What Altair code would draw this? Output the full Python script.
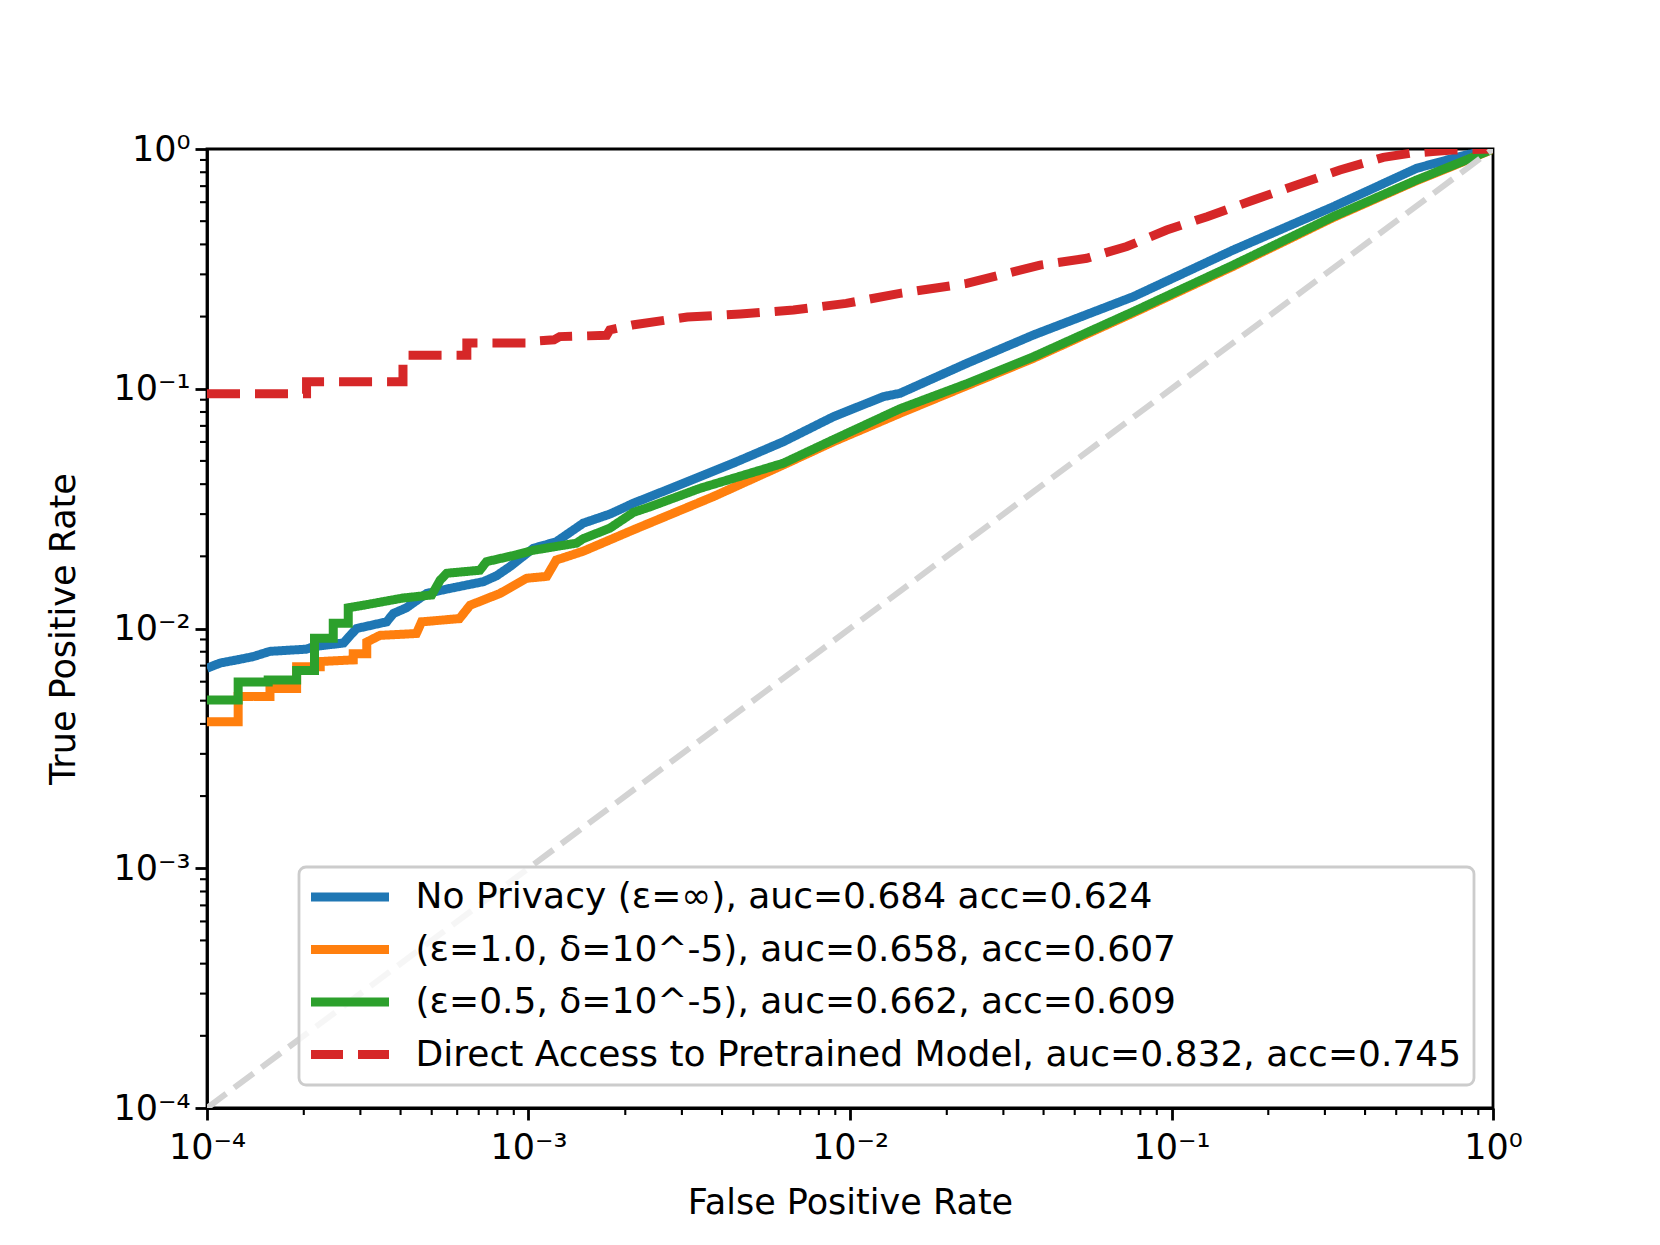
import altair as alt
import pandas as pd

# ---------------- data ----------------
series_names = [
    "No Privacy (ε=∞), auc=0.684 acc=0.624",
    "(ε=1.0, δ=10^-5), auc=0.658, acc=0.607",
    "(ε=0.5, δ=10^-5), auc=0.662, acc=0.609",
    "Direct Access to Pretrained Model, auc=0.832, acc=0.745",
]
series_colors = ["#1f77b4", "#ff7f0e", "#2ca02c", "#d62728"]
series_dashes = [[1, 0], [1, 0], [1, 0], [33, 15]]

blue_fpr = [1e-4, 1.1e-4, 1.24e-4, 1.39e-4, 1.57e-4, 2.04e-4, 2.14e-4, 2.66e-4, 2.79e-4,
            2.92e-4, 3.62e-4, 3.80e-4, 4.17e-4, 4.82e-4, 5.70e-4, 7.24e-4, 7.96e-4,
            8.75e-4, 1.035e-3, 1.22e-3, 1.48e-3, 1.79e-3, 2.12e-3, 2.69e-3, 4.33e-3,
            6.2e-3, 8.87e-3, 0.0127, 0.0143, 0.0231, 0.0372, 0.076, 0.1556, 0.318,
            0.579, 0.80, 1.0]
blue_tpr = [0.00683, 0.00718, 0.0074, 0.00763, 0.00803, 0.0082, 0.0084, 0.0087, 0.00936,
            0.0100, 0.01066, 0.01155, 0.0122, 0.0140, 0.0147, 0.01568, 0.0166,
            0.0181, 0.0216, 0.0230, 0.0275, 0.0300, 0.0333, 0.0378, 0.0489,
            0.0601, 0.0764, 0.0927, 0.0957, 0.1277, 0.1676, 0.242, 0.379, 0.574,
            0.831, 0.935, 1.0]

orange_fpr = [1e-4, 1.25e-4, 1.25e-4, 1.57e-4, 1.57e-4, 1.9e-4, 1.9e-4, 2.25e-4, 2.25e-4,
              2.85e-4, 2.85e-4, 3.14e-4, 3.14e-4, 3.45e-4, 4.48e-4, 4.65e-4, 6.1e-4,
              6.58e-4, 8.15e-4, 9.87e-4, 1.14e-3, 1.22e-3, 1.48e-3, 2.12e-3, 3.76e-3,
              6.2e-3, 8.87e-3, 0.0143, 0.0231, 0.0372, 0.076, 0.1556, 0.318, 0.579,
              0.80, 1.0]
orange_tpr = [0.00408, 0.00408, 0.0052, 0.0052, 0.00562, 0.00562, 0.00693, 0.00693, 0.00728,
              0.0074, 0.00784, 0.00784, 0.00878, 0.00936, 0.00953, 0.01066, 0.0110,
              0.0125, 0.0140, 0.0162, 0.0165, 0.0193, 0.0210, 0.0258, 0.0355,
              0.0481, 0.0601, 0.079, 0.103, 0.134, 0.207, 0.324, 0.517, 0.738,
              0.88, 1.0]

green_fpr = [1e-4, 1.25e-4, 1.25e-4, 1.55e-4, 1.55e-4, 1.9e-4, 1.9e-4, 2.16e-4, 2.16e-4,
             2.47e-4, 2.47e-4, 2.75e-4, 2.75e-4, 3.06e-4, 4.07e-4, 5.0e-4, 5.31e-4,
             5.57e-4, 7.06e-4, 7.4e-4, 9.18e-4, 1.035e-3, 1.41e-3, 1.48e-3, 1.79e-3,
             2.12e-3, 2.39e-3, 3.41e-3, 6.2e-3, 8.87e-3, 0.0143, 0.0231, 0.0372,
             0.076, 0.1556, 0.318, 0.579, 0.80, 1.0]
green_tpr = [0.00503, 0.00503, 0.00598, 0.00598, 0.0061, 0.0061, 0.00668, 0.00668, 0.0091,
             0.0091, 0.01051, 0.01051, 0.0122, 0.0125, 0.0134, 0.0138, 0.0159,
             0.0170, 0.0175, 0.0190, 0.0203, 0.0212, 0.0227, 0.0237, 0.0262,
             0.0305, 0.0322, 0.0384, 0.0489, 0.0613, 0.0825, 0.105, 0.136,
             0.2096, 0.328, 0.522, 0.743, 0.885, 1.0]

red_fpr = [1e-4, 2.04e-4, 2.04e-4, 4.07e-4, 4.07e-4, 6.43e-4, 6.43e-4, 1.0e-3, 1.03e-3,
           1.2e-3, 1.25e-3, 1.75e-3, 1.79e-3, 2.13e-3, 3.12e-3, 4.56e-3, 6.67e-3,
           9.73e-3, 0.0143, 0.0231, 0.039, 0.0545, 0.0726, 0.0966, 0.129, 0.180,
           0.245, 0.334, 0.456, 0.552, 0.65, 0.75, 1.0]
red_tpr = [0.0954, 0.0954, 0.107, 0.107, 0.138, 0.138, 0.155, 0.155, 0.158,
           0.160, 0.165, 0.167, 0.176, 0.185, 0.199, 0.205, 0.213,
           0.227, 0.250, 0.275, 0.328, 0.350, 0.392, 0.459, 0.522, 0.613,
           0.708, 0.817, 0.923, 0.959, 0.975, 0.99, 1.0]

diag_vals = [1e-4, 1.0]

major_ticks = [1e-4, 1e-3, 1e-2, 1e-1, 1.0]
tick_labels = ["10⁻⁴", "10⁻³", "10⁻²", "10⁻¹", "10⁰"]
minor_ticks = [m * 10.0 ** e for e in (-4, -3, -2, -1) for m in range(2, 10)]

x_title = "False Positive Rate"
y_title = "True Positive Rate"

# ---------------- tables ----------------
rows = []
for name, fx, fy in zip(series_names,
                        [blue_fpr, orange_fpr, green_fpr, red_fpr],
                        [blue_tpr, orange_tpr, green_tpr, red_tpr]):
    for i, (a, b) in enumerate(zip(fx, fy)):
        rows.append({"series": name, "fpr": a, "tpr": b, "i": i})
df = pd.DataFrame(rows)
diag_df = pd.DataFrame({"fpr": diag_vals, "tpr": diag_vals, "i": [0, 1]})
minor_df = pd.DataFrame({"fpr": minor_ticks, "tpr": minor_ticks})

W, H = 1286, 959
FONT = "DejaVu Sans"
FS = 35
LFS = 36
LW = 9
label_js = "[" + ",".join("'%s'" % t for t in tick_labels) + "]"
label_expr = label_js + "[round(log(datum.value)/LN10)+4]"

xs = alt.Scale(type="log", domain=[1e-4, 1.0], nice=False)
ys = alt.Scale(type="log", domain=[1e-4, 1.0], nice=False)

common_axis = dict(values=major_ticks, labelExpr=label_expr, grid=False,
                   tickSize=12, tickWidth=2.8, tickColor="black",
                   domainColor="black", domainWidth=2.8,
                   labelFont=FONT, labelFontSize=FS, labelColor="black",
                   titleFont=FONT, titleFontSize=FS, titleFontWeight="normal",
                   titleColor="black", labelFlush=False, labelOverlap=False,
                   titleBaseline="middle", titleAlign="center")
xaxis = alt.Axis(title=x_title, labelPadding=10, titleX=W / 2, titleY=94, **common_axis)
yaxis = alt.Axis(title=y_title, labelPadding=5, titleX=-144, titleY=H / 2,
                 titleAngle=-90, **common_axis)

x_enc = alt.X("fpr:Q", scale=xs, axis=xaxis)
y_enc = alt.Y("tpr:Q", scale=ys, axis=yaxis)
color_enc = alt.Color("series:N", scale=alt.Scale(domain=series_names, range=series_colors),
                      legend=alt.Legend(title=None))
dash_enc = alt.StrokeDash("series:N", scale=alt.Scale(domain=series_names, range=series_dashes),
                          legend=alt.Legend(title=None))

layers = []
for name in series_names:
    layers.append(
        alt.Chart(df).transform_filter(alt.datum.series == name)
        .mark_line(strokeWidth=LW, clip=True)
        .encode(x=x_enc, y=y_enc, color=color_enc, strokeDash=dash_enc, order="i:Q")
    )

diag = alt.Chart(diag_df).mark_line(color="#d3d3d3", strokeWidth=6, strokeDash=[24, 10],
                                    clip=True).encode(x=x_enc, y=y_enc, order="i:Q")

minor_x = alt.Chart(minor_df).mark_rule(color="black", strokeWidth=2.1).encode(
    x=x_enc, y=alt.value(H), y2=alt.value(H + 7))
minor_y = alt.Chart(minor_df).mark_rule(color="black", strokeWidth=2.1).encode(
    y=y_enc, x=alt.value(0), x2=alt.value(-7))

chart = alt.layer(*layers, diag, minor_x, minor_y).properties(
    width=W, height=H,
    autosize=alt.AutoSizeParams(type="none"),
    padding={"left": 199, "top": 141, "right": 150, "bottom": 120},
    background="white",
).configure_view(stroke="black", strokeWidth=2.8).configure_legend(
    orient="none", legendX=92, legendY=718,
    labelFont=FONT, labelFontSize=LFS, labelColor="black", labelLimit=0,
    symbolType="stroke", symbolSize=6241, symbolStrokeWidth=LW,
    clipHeight=36, rowPadding=16.5, padding=12, symbolOffset=-5.5, labelOffset=22,
    strokeColor="#cccccc", strokeWidth=2.8, cornerRadius=7,
    fillColor="rgba(255,255,255,0.8)",
)

chart.save("out.html", embed_options={"renderer": "svg", "actions": False})
